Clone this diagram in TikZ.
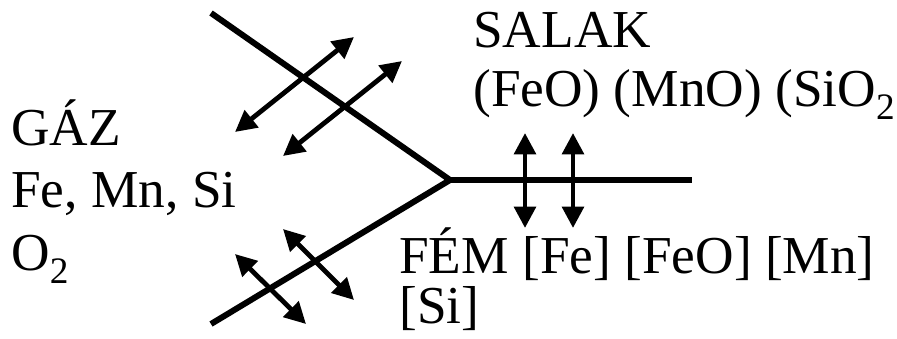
\documentclass[tikz,border=0pt]{standalone}
\usepackage{fontspec}
\setmainfont{Liberation Serif}
\usetikzlibrary{arrows.meta}
\tikzset{
  phase/.style={line width=4.5pt},
  swap/.style={line width=3.6pt, {Triangle[length=16pt,width=16pt]}-{Triangle[length=16pt,width=16pt]}},
  label/.style={anchor=base west, inner sep=0pt, font=\fontsize{40}{46}\selectfont}
}

\begin{document}
\begin{tikzpicture}[x=0.75pt, y=-0.75pt]
\useasboundingbox (0,0) rectangle (897,339);
% phase boundaries
\coordinate (mid) at (450,180);
\coordinate (gasTop) at (211,13);
\coordinate (gasBot) at (211,324);
\coordinate (slagEnd) at (692,180);
\draw[phase] (gasTop) -- (mid) -- (gasBot);
\draw[phase] (mid) -- (slagEnd);
% exchange between gas and slag
\draw[swap] (235,132) -- (354,37);
\draw[swap] (283,156) -- (402,61);
% exchange between gas and metal
\draw[swap] (235,254) -- (306,324);
\draw[swap] (283,229) -- (354,300);
% exchange between slag and metal
\draw[swap] (525,133) -- (525,228);
\draw[swap] (573,133) -- (573,228);
% phases
\node[label] (gaz) at (11,145) {GÁZ};
\node[label] (gazElem) at (11,207) {Fe, Mn, Si};
\node[label] (gazOx) at (11,270) {O\textsubscript{2}};
\node[label] (salak) at (473,47) {SALAK};
\node[label] (salakOx) at (473,106) {(FeO) (MnO) (SiO\textsubscript{2}};
\node[label] (fem) at (399,273) {FÉM [Fe] [FeO] [Mn]};
\node[label] (femSi) at (399,323) {[Si]};
\end{tikzpicture}
\end{document}
